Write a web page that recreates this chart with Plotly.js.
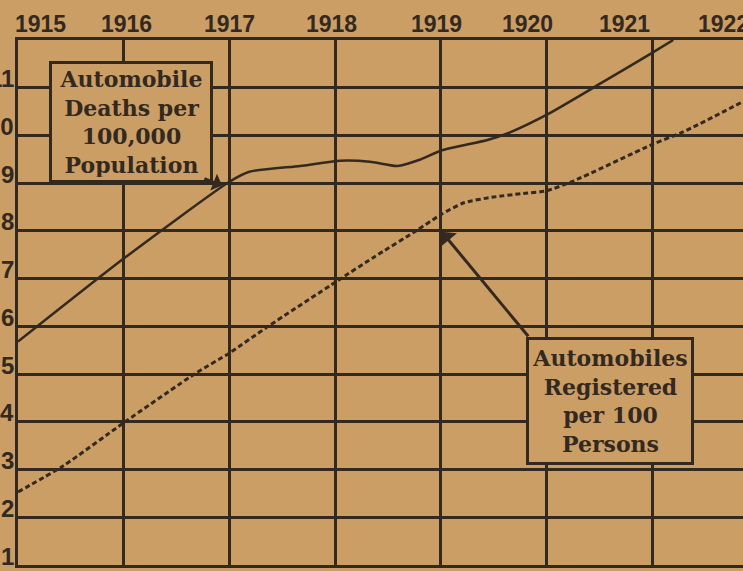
<!DOCTYPE html>
<html>
<head>
<meta charset="utf-8">
<script src="https://cdn.plot.ly/plotly-3.0.1.min.js"></script>
<style>
  html, body { margin: 0; padding: 0; background: #cb9e66; }
  #chart { width: 743px; height: 571px; }
</style>
</head>
<body>
<div id="chart"></div>
<script>
// ---- data ----
const yearTicks = [1915, 1916, 1917, 1918, 1919, 1920, 1921, 1922];
const yearLabels = ["1915", "1916", "1917", "1918", "1919", "1920", "1921", "1922"];
const yearLabelPos = [1915.21, 1916.03, 1917.0, 1917.97, 1918.96, 1919.82, 1920.74, 1921.68];

const valueTicks = [1, 2, 3, 4, 5, 6, 7, 8, 9, 10, 11];
const valueLabels = ["1", "2", "3", "4", "5", "6", "7", "8", "9", "10", "11"];

// Automobile deaths per 100,000 population (solid line)
const deathsX = [1915.0, 1916.0, 1917.0, 1917.19, 1917.67, 1918.05, 1918.33, 1918.59, 1918.8, 1919.0, 1919.45, 1919.65, 1920.0, 1920.52, 1921.0, 1921.2];
const deathsY = [5.68, 7.42, 9.03, 9.24, 9.36, 9.47, 9.45, 9.36, 9.49, 9.68, 9.91, 10.06, 10.43, 11.1, 11.73, 12.0];

// Automobiles registered per 100 persons (dotted line)
const regX = [1915.0, 1915.43, 1916.0, 1916.69, 1917.0, 1917.36, 1918.02, 1918.36, 1918.78, 1919.0, 1919.22, 1919.5, 1919.76, 1920.0, 1920.26, 1921.0, 1921.3, 1921.86];
const regY = [2.53, 3.08, 3.98, 5.03, 5.44, 5.99, 6.95, 7.44, 8.02, 8.34, 8.59, 8.71, 8.78, 8.84, 9.05, 9.81, 10.08, 10.71];

// ---- styling ----
const PAPER = "#cb9e66";
const INK = "#33291f";
const xFont = { family: "Liberation Sans, Arial, sans-serif", size: 23, color: INK, weight: "bold" };
const yFont = { family: "Liberation Sans, Arial, sans-serif", size: 24, color: INK, weight: "bold" };
const boxFont = { family: "DejaVu Serif, serif", size: 22, color: INK, weight: "bold" };

const traces = [
  {
    x: deathsX, y: deathsY, type: "scatter", mode: "lines",
    line: { color: INK, width: 2.5, shape: "spline", smoothing: 0.6 },
    hoverinfo: "skip"
  },
  {
    x: regX, y: regY, type: "scatter", mode: "lines",
    line: { color: INK, width: 3, dash: "5px,3px", shape: "spline", smoothing: 0.6 },
    hoverinfo: "skip"
  }
];

const annotations = yearLabels.map((t, i) => ({
  text: t, x: yearLabelPos[i], y: 1, xref: "x", yref: "paper",
  xanchor: "center", yanchor: "middle", yshift: 16, showarrow: false,
  font: xFont
}));

valueLabels.forEach((t, i) => {
  annotations.push({
    text: t, x: 0, y: valueTicks[i], xref: "paper", yref: "y",
    xanchor: "right", yanchor: "middle", xshift: -2, yshift: 9, showarrow: false,
    font: yFont
  });
});

// label boxes
annotations.push({
  text: "Automobile<br>Deaths per<br>100,000<br>Population",
  x: 1916.07, y: 10.29, xref: "x", yref: "y", showarrow: false,
  xanchor: "center", yanchor: "middle", width: 152, height: 110,
  font: boxFont, bgcolor: PAPER, bordercolor: INK, borderwidth: 3, borderpad: 3,
  align: "center", valign: "middle"
});
annotations.push({
  text: "Automobiles<br>Registered<br>per 100<br>Persons",
  x: 1920.6, y: 4.43, xref: "x", yref: "y", showarrow: false,
  xanchor: "center", yanchor: "middle", width: 156, height: 116,
  font: boxFont, bgcolor: PAPER, bordercolor: INK, borderwidth: 3, borderpad: 3,
  align: "center", valign: "middle"
});
// pointer arrows
annotations.push({
  text: "", x: 1919.01, y: 7.98, ax: 1919.84, ay: 5.76, axref: "x", ayref: "y",
  xref: "x", yref: "y", showarrow: true, arrowhead: 1, arrowsize: 1.2, arrowwidth: 3, arrowcolor: INK
});
annotations.push({
  text: "", x: 1916.93, y: 8.95, ax: 1916.75, ay: 9.11, axref: "x", ayref: "y",
  xref: "x", yref: "y", showarrow: true, arrowhead: 1, arrowsize: 1.2, arrowwidth: 2.5, arrowcolor: INK
});

const layout = {
  width: 743, height: 571,
  margin: { l: 18, r: 0, t: 40, b: 6, pad: 0 },
  paper_bgcolor: PAPER, plot_bgcolor: PAPER,
  showlegend: false,
  xaxis: {
    range: [1915, 1921.86], side: "top",
    tickvals: yearTicks, showticklabels: false, ticks: "",
    showgrid: true, gridcolor: INK, gridwidth: 3,
    showline: true, linecolor: INK, linewidth: 3, mirror: true,
    zeroline: false, fixedrange: true
  },
  yaxis: {
    range: [1, 12],
    tickvals: valueTicks, showticklabels: false, ticks: "",
    showgrid: true, gridcolor: INK, gridwidth: 3,
    showline: true, linecolor: INK, linewidth: 3, mirror: false,
    zeroline: false, fixedrange: true, automargin: false
  },
  annotations: annotations
};

Plotly.newPlot("chart", traces, layout, { displayModeBar: false, staticPlot: true });
</script>
</body>
</html>
